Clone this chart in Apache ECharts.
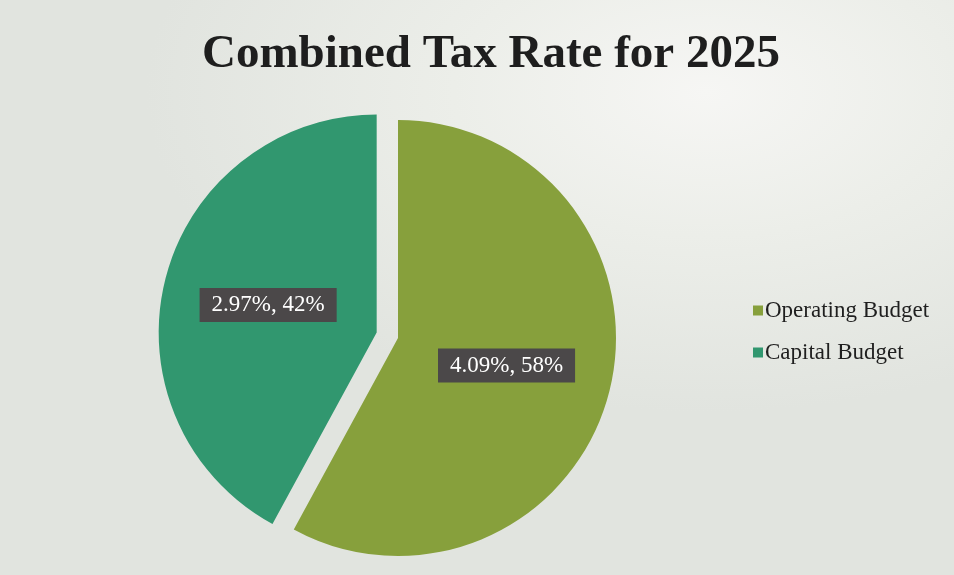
<!DOCTYPE html>
<html>
<head>
<meta charset="utf-8">
<title>Combined Tax Rate for 2025</title>
<script src="https://cdn.jsdelivr.net/npm/echarts@6/dist/echarts.min.js"></script>
<style>
  html, body { margin: 0; padding: 0; }
  body {
    width: 954px; height: 575px; overflow: hidden;
    background: radial-gradient(ellipse 560px 320px at 74% 16%, #f6f6f4 0%, #eceee9 45%, #e1e4df 100%);
  }
  #chart { width: 954px; height: 575px; }
</style>
</head>
<body>
<div id="chart"></div>
<script>
// Budget components of the combined 2025 tax rate
const categories = ['Operating Budget', 'Capital Budget'];
const ratePercent = [4.09, 2.97];      // tax rate share, in percent
const sharePercent = [58, 42];         // share of the combined rate
const sliceColors = ['#87a03c', '#31976f'];

const pieData = categories.map((name, i) => ({
  name: name,
  value: ratePercent[i],
  share: sharePercent[i],
  selected: name === 'Capital Budget',
  itemStyle: { color: sliceColors[i] }
}));

const chart = echarts.init(document.getElementById('chart'), null, { renderer: 'canvas' });

chart.setOption({
  backgroundColor: 'transparent',
  animation: false,
  title: {
    text: 'Combined Tax Rate for 2025',
    left: 197,
    top: 26,
    textStyle: {
      fontFamily: 'Liberation Serif',
      fontWeight: 'bold',
      fontSize: 47,
      color: '#1e1e1e'
    }
  },
  legend: {
    orient: 'vertical',
    left: 748,
    top: 294,
    itemGap: 19,
    itemWidth: 10,
    itemHeight: 10,
    icon: 'rect',
    data: categories,
    selectedMode: false,
    textStyle: {
      fontFamily: 'Liberation Serif',
      fontSize: 23,
      color: '#1f1f1f',
      padding: [0, 0, 0, -3]
    }
  },
  series: [{
    type: 'pie',
    center: [398, 338],
    radius: 218,
    startAngle: 90,
    clockwise: true,
    selectedMode: 'single',
    selectedOffset: 22,
    avoidLabelOverlap: false,
    itemStyle: { borderWidth: 0 },
    label: {
      show: true,
      position: 'inside',
      formatter: p => p.data.value.toFixed(2) + '%, ' + p.data.share + '%',
      backgroundColor: '#4b4849',
      padding: [6, 12, 5, 12],
      color: '#ffffff',
      fontFamily: 'Liberation Serif',
      fontSize: 23
    },
    labelLine: { show: false },
    emphasis: { disabled: true },
    data: pieData
  }]
});
</script>
</body>
</html>
